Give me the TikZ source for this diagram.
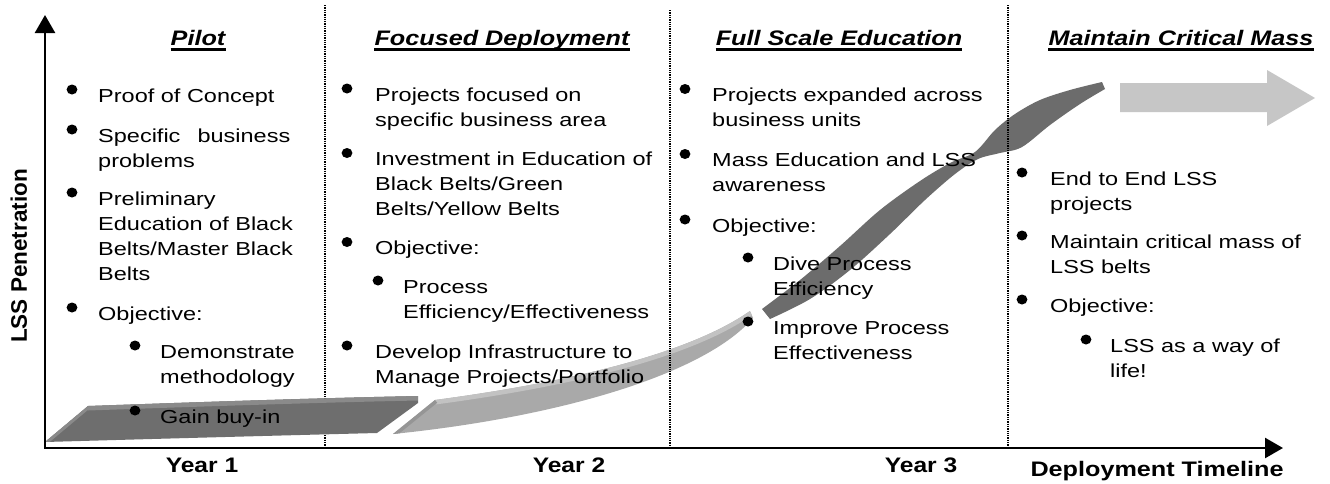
\documentclass[tikz,border=0pt]{standalone}
\usepackage{fontspec}
\setmainfont{Liberation Sans}
\usepackage{graphicx}
\usetikzlibrary{arrows.meta}

\definecolor{bandA}{HTML}{6E6E6E}
\definecolor{bandAtop}{HTML}{8A8A8A}
\definecolor{bandB}{HTML}{A9A9A9}
\definecolor{bandBtop}{HTML}{C2C2C2}
\definecolor{bandBedge}{HTML}{959595}
\definecolor{bandC}{HTML}{6C6C6C}
\definecolor{arrowfill}{HTML}{C6C6C6}

% widened multi-line text block, baseline on its first line
\newcommand\wtxt[2]{\scalebox{#1}[1]{\begin{tabular}[t]{@{}l@{}}#2\end{tabular}}}
\newcommand\bul[2]{\fill (#1,#2) ellipse [x radius=5.4, y radius=5];}

\tikzset{
  body/.style={anchor=base west, inner sep=0pt, font=\fontsize{18.8}{25}\selectfont},
  head/.style={anchor=base, inner sep=0pt, font=\fontsize{21}{25}\selectfont\bfseries\itshape},
  axlabel/.style={anchor=base, inner sep=0pt, font=\fontsize{21}{25}\selectfont\bfseries},
  uline/.style={line width=2.5pt},
  axis/.style={line width=2.5pt, line cap=rect, -{Triangle[width=20pt,length=18pt]}},
  phase/.style={line width=2pt, dash pattern=on 1.3pt off 1pt},
}

\begin{document}
\begin{tikzpicture}[x=1pt,y=-1pt]
\useasboundingbox (0,0) rectangle (1330,483);
\fill[white] (0,0) rectangle (1330,483);

% ---- growth ribbon, second segment
\path[save path=\bandtwo] (393,434) -- (435,400)
  .. controls (540,386) and (680,360) .. (750,311)
  -- (753,318) .. controls (705,374) and (560,417) .. (393,434) -- cycle;
\fill[bandB, use path=\bandtwo];
\begin{scope}
  \clip[use path=\bandtwo];
  \draw[bandBtop, line width=9pt] (435,400) .. controls (540,386) and (680,360) .. (750,311);
  \draw[bandBedge, line width=7pt] (393,434) -- (435,400);
\end{scope}

% ---- growth ribbon, third segment (S-curve)
\fill[bandC]
  plot[smooth, tension=0.55] coordinates {(762,309) (800,280) (840,246) (880,210) (920,181) (950,163) (975,152) (995,130) (1015,114) (1040,100) (1070,90) (1102,82)}
  -- plot[smooth, tension=0.55] coordinates {(1105,89) (1080,104) (1050,125) (1022,147) (1000,153) (978,159) (955,174) (925,200) (890,234) (850,270) (810,299) (770,319)}
  -- cycle;

% ---- phase separators
\coordinate (d1t) at (325,5);   \coordinate (d1b) at (325,448);
\coordinate (d2t) at (670,10);  \coordinate (d2b) at (670,448);
\coordinate (d3t) at (1008,5);  \coordinate (d3b) at (1008,448);
\draw[phase] (d1t) -- (d1b);
\draw[phase] (d2t) -- (d2b);
\draw[phase] (d3t) -- (d3b);

% ---- growth ribbon, first segment
\path[save path=\bandone] (45,442) -- (88,406)
  .. controls (200,402) and (320,398) .. (418,396)
  -- (418,403) -- (377,433) .. controls (260,436) and (150,439) .. (45,442) -- cycle;
\fill[bandA, use path=\bandone];
\begin{scope}
  \clip[use path=\bandone];
  \draw[bandAtop, line width=9pt] (88,406) .. controls (200,402) and (320,398) .. (418,396);
  \draw[bandAtop, line width=6pt] (45,442) -- (88,406);
\end{scope}

% ---- continuation arrow
\fill[arrowfill] (1120,83) -- (1267,83) -- (1267,70) -- (1315,98)
  -- (1267,126) -- (1267,112) -- (1120,112) -- cycle;

% ---- axes
\coordinate (O) at (45,448);
\coordinate (ytop) at (45,15);
\coordinate (xend) at (1283,448);
\draw[axis] (O) -- (ytop);
\draw[axis] (O) -- (xend);

\node[axlabel, rotate=90] (ylab) at (27,256) {\fontsize{22.5}{25}\selectfont LSS Penetration};
\node[axlabel] (yr1) at (202,472) {\scalebox{1.17}[1]{Year 1}};
\node[axlabel] (yr2) at (569,472) {\scalebox{1.17}[1]{Year 2}};
\node[axlabel] (yr3) at (921,472) {\scalebox{1.17}[1]{Year 3}};
\node[axlabel] (xlab) at (1157,476) {\scalebox{1.2}[1]{Deployment Timeline}};

% ---- phase headings
\node[head] (h1) at (198,45) {\scalebox{1.2}[1]{Pilot}};
\node[head] (h2) at (502,45) {\scalebox{1.2}[1]{Focused Deployment}};
\node[head] (h3) at (839,45) {\scalebox{1.2}[1]{Full Scale Education}};
\node[head] (h4) at (1181,45) {\scalebox{1.2}[1]{Maintain Critical Mass}};
\foreach \h in {h1,h2,h3,h4}
  \draw[uline] ([yshift=-4.5pt]\h.base west) -- ([yshift=-4.5pt]\h.base east);

% ---- Pilot
\bul{72}{89.5}  \node[body] (p1) at (98,102) {\wtxt{1.25}{Proof of Concept}};
\bul{72}{129.5} \node[body] (p2) at (98,142) {\wtxt{1.25}{Specific\hspace{0.45em} business\\problems}};
\bul{72}{192.5} \node[body] (p3) at (98,205) {\wtxt{1.25}{Preliminary\\Education of Black\\Belts/Master Black\\Belts}};
\bul{72}{307.5} \node[body] (p4) at (98,320) {\wtxt{1.25}{Objective:}};
\bul{135}{345.5} \node[body] (p5) at (160,358) {\wtxt{1.25}{Demonstrate\\methodology}};
\bul{135}{410.5} \node[body] (p6) at (160,423) {\wtxt{1.25}{Gain buy-in}};

% ---- Focused Deployment
\bul{347}{88.5}  \node[body] (f1) at (375,101) {\wtxt{1.25}{Projects focused on\\specific business area}};
\bul{347}{153}   \node[body] (f2) at (375,165.5) {\wtxt{1.25}{Investment in Education of\\Black Belts/Green\\Belts/Yellow Belts}};
\bul{347}{242}   \node[body] (f3) at (375,254.5) {\wtxt{1.25}{Objective:}};
\bul{378}{280.5} \node[body] (f4) at (403,293) {\wtxt{1.25}{Process\\Efficiency/Effectiveness}};
\bul{347}{345.5} \node[body] (f5) at (375,358) {\wtxt{1.25}{Develop Infrastructure to\\Manage Projects/Portfolio}};

% ---- Full Scale Education
\bul{685}{89}    \node[body] (s1) at (712,101.5) {\wtxt{1.25}{Projects expanded across\\business units}};
\bul{685}{154}   \node[body] (s2) at (712,166.5) {\wtxt{1.25}{Mass Education and LSS\\awareness}};
\bul{685}{219.5} \node[body] (s3) at (712,232) {\wtxt{1.25}{Objective:}};
\bul{748}{257.5} \node[body] (s4) at (773,270) {\wtxt{1.25}{Dive Process\\Efficiency}};
\bul{748}{321.5} \node[body] (s5) at (773,334) {\wtxt{1.25}{Improve Process\\Effectiveness}};

% ---- Maintain Critical Mass
\bul{1022}{172.5} \node[body] (m1) at (1050,185) {\wtxt{1.25}{End to End LSS\\projects}};
\bul{1022}{235.5} \node[body] (m2) at (1050,248) {\wtxt{1.25}{Maintain critical mass of\\LSS belts}};
\bul{1022}{299.5} \node[body] (m3) at (1050,312) {\wtxt{1.25}{Objective:}};
\bul{1086}{339.5} \node[body] (m4) at (1110,352) {\wtxt{1.25}{LSS as a way of\\life!}};
\end{tikzpicture}
\end{document}
